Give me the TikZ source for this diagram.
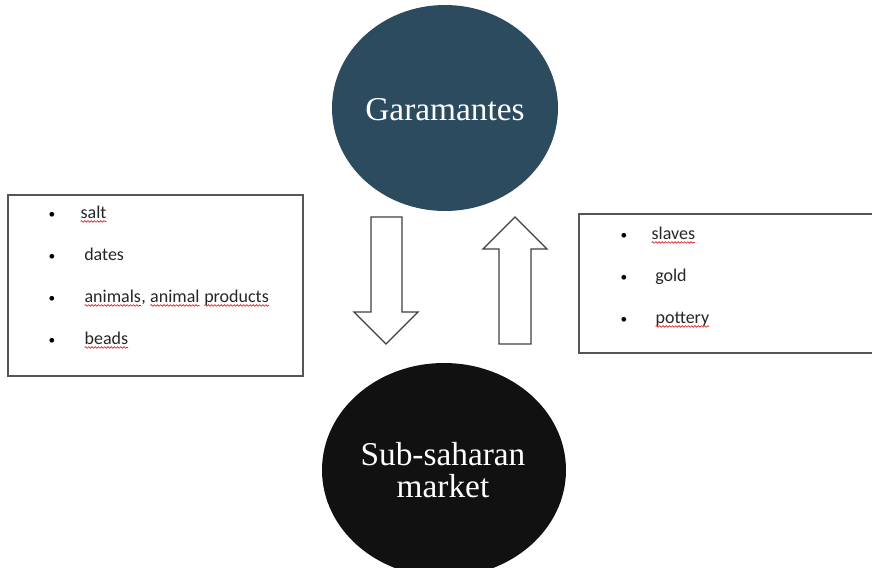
\documentclass[tikz,border=0pt]{standalone}
\usepackage{fontspec}
\setmainfont{Carlito}
\newfontfamily\titlefont{Liberation Serif}
\usetikzlibrary{decorations.pathmorphing}
\definecolor{slateblue}{HTML}{2C4B5F}
\definecolor{nearblack}{HTML}{111111}
\definecolor{boxline}{HTML}{555555}
\definecolor{spellred}{HTML}{E02020}
\newcommand\spellwave[1]{\tikz[baseline=(sw.base)]{\node[inner sep=0pt,outer sep=0pt] (sw) {#1};
  \draw[spellred, line width=0.5pt, decorate, decoration={snake, amplitude=0.6pt, segment length=2.4pt}] ([yshift=-2.6pt]sw.base west) -- ([yshift=-2.6pt]sw.base east);}}
\tikzset{
  listbox/.style={draw=boxline, line width=0.9pt, fill=white},
  bigarrow/.style={draw=black!75, line width=1pt, fill=white, line join=miter},
  bullet/.style={anchor=base, inner sep=0pt, font=\fontsize{10}{12}\selectfont},
  item/.style={anchor=base west, inner sep=0pt, font=\fontsize{13.5}{16}\selectfont, text=black!85},
  circletext/.style={align=center, text=white, font=\titlefont\fontsize{25}{24}\selectfont}
}
\begin{document}
\begin{tikzpicture}[x=0.75pt, y=-0.75pt]
\useasboundingbox (0,0) rectangle (872,568);
% ellipses
\fill[slateblue] (445,108) ellipse [x radius=113, y radius=103];
\node[circletext] (gar) at (445,110) {Garamantes};
\fill[nearblack] (444,470) ellipse [x radius=122, y radius=107];
\node[circletext] (sub) at (443,470) {Sub-saharan\\market};
% left box
\draw[listbox] (8,195) rectangle (303,376);
\foreach \yy in {218,260,302,344} \node[bullet] at (52,\yy) {•};
\node[item] (i1) at (80,218) {\spellwave{salt}};
\node[item] (i2) at (84,260) {dates};
\node[item] (i3) at (84,302) {\spellwave{animals}, \spellwave{animal} \spellwave{products}};
\node[item] (i4) at (84,344) {\spellwave{beads}};
% right box
\draw[listbox] (579,214) rectangle (880,353);
\foreach \yy in {239,281,323} \node[bullet] at (624,\yy) {•};
\node[item] (j1) at (651,239) {\spellwave{slaves}};
\node[item] (j2) at (655,281) {gold};
\node[item] (j3) at (655,323) {\spellwave{pottery}};
% arrows
\draw[bigarrow] (371,217) -- (402,217) -- (402,312) -- (418,312) -- (386,344) -- (354,312) -- (371,312) -- cycle;
\draw[bigarrow] (515,217) -- (547,249) -- (531,249) -- (531,344) -- (499,344) -- (499,249) -- (483,249) -- cycle;
\end{tikzpicture}
\end{document}
